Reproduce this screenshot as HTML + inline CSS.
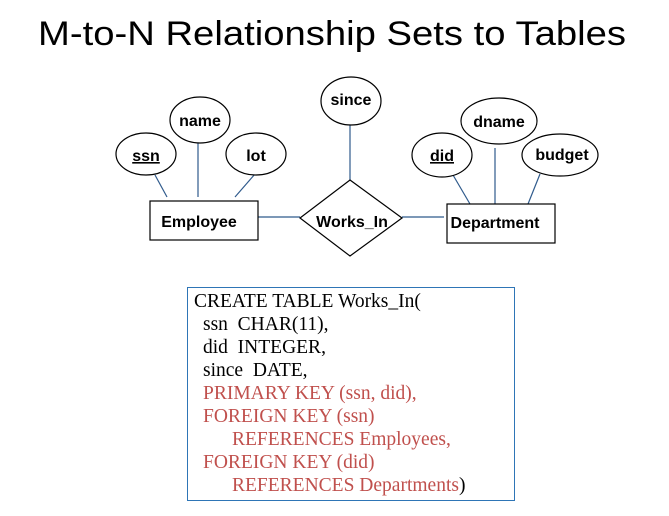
<!DOCTYPE html>
<html><head><meta charset="utf-8"><style>
body{margin:0;background:#fff;width:669px;height:516px;overflow:hidden}
svg{display:block}
.b{font-family:"Liberation Sans",Arial,sans-serif;font-weight:bold;font-size:16px}
.s{font-family:"Liberation Serif",serif;font-size:19.5px}
</style></head><body>
<svg width="669" height="516" viewBox="0 0 669 516">
<text x="332" y="45" text-anchor="middle" font-family="Liberation Sans,Arial,sans-serif" font-size="34" textLength="588" lengthAdjust="spacingAndGlyphs">M-to-N Relationship Sets to Tables</text>
<g stroke="#2f5a8c" stroke-width="1.2">
<line x1="350" y1="125" x2="350" y2="180"/>
<line x1="198" y1="143" x2="198" y2="197"/>
<line x1="155" y1="175" x2="167" y2="197"/>
<line x1="255" y1="174" x2="235" y2="197"/>
<line x1="255" y1="217" x2="300" y2="217"/>
<line x1="402" y1="217" x2="444" y2="217"/>
<line x1="453" y1="175" x2="470" y2="204"/>
<line x1="495" y1="148" x2="495" y2="204"/>
<line x1="540" y1="174" x2="528" y2="204"/>
</g>
<g fill="#fff" stroke="#000" stroke-width="1.2">
<ellipse cx="351" cy="101" rx="30" ry="24"/>
<ellipse cx="200" cy="120" rx="30" ry="23"/>
<ellipse cx="146" cy="154" rx="30" ry="21"/>
<ellipse cx="256" cy="154" rx="30" ry="21"/>
<ellipse cx="499" cy="121" rx="38" ry="23"/>
<ellipse cx="442" cy="155" rx="30" ry="22"/>
<ellipse cx="560" cy="155" rx="38" ry="21"/>
<rect x="150" y="201" width="108" height="39"/>
<rect x="447" y="204" width="108" height="39"/>
<polygon points="350,180 402,218 350,256 300,218"/>
</g>
<g class="b">
<text x="351" y="105" text-anchor="middle">since</text>
<text x="200" y="126" text-anchor="middle">name</text>
<text x="146" y="161" text-anchor="middle" text-decoration="underline">ssn</text>
<text x="256" y="161" text-anchor="middle">lot</text>
<text x="499" y="127" text-anchor="middle">dname</text>
<text x="442" y="161" text-anchor="middle" text-decoration="underline">did</text>
<text x="562" y="160" text-anchor="middle">budget</text>
<text x="199" y="227" text-anchor="middle">Employee</text>
<text x="495" y="228" text-anchor="middle">Department</text>
<text x="352" y="227" text-anchor="middle">Works_In</text>
</g>
<rect x="187.5" y="287.5" width="327" height="213" fill="none" stroke="#2e75b6" stroke-width="1"/>
<g class="s">
<text x="194" y="307">CREATE TABLE Works_In(</text>
<text x="203" y="330">ssn&#160; CHAR(11),</text>
<text x="203" y="353">did&#160; INTEGER,</text>
<text x="203" y="376">since&#160; DATE,</text>
<g fill="#c0504d">
<text x="203" y="399">PRIMARY KEY (ssn, did),</text>
<text x="203" y="422">FOREIGN KEY (ssn)</text>
<text x="232" y="445">REFERENCES Employees,</text>
<text x="203" y="468">FOREIGN KEY (did)</text>
<text x="232" y="491">REFERENCES Departments<tspan fill="#000">)</tspan></text>
</g>
</g>
</svg>
</body></html>
